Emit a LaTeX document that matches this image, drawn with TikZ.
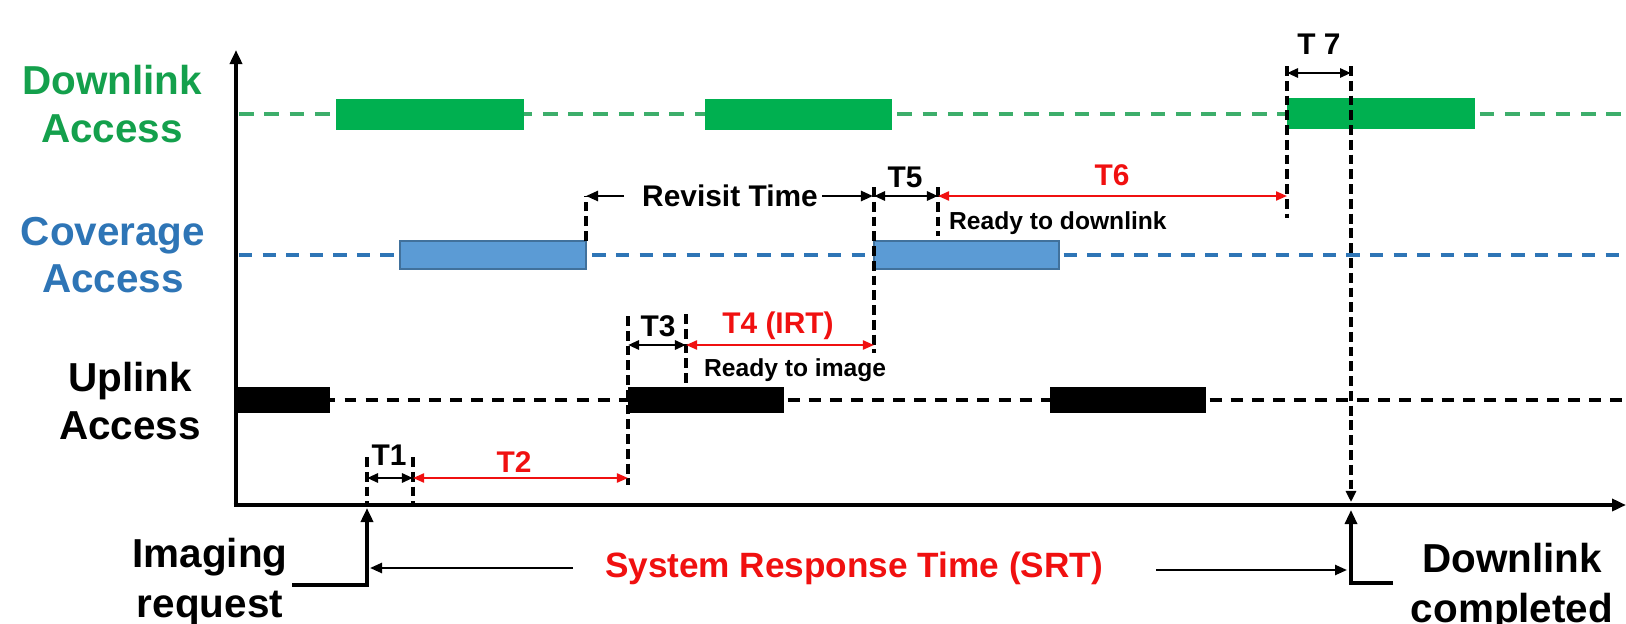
\documentclass[tikz,border=0pt]{standalone}
\usepackage{fontspec}
\setmainfont{Liberation Sans}
\usepackage{tikz}
\usetikzlibrary{positioning, arrows.meta, calc}
\definecolor{dlgreen}{HTML}{00B050}
\definecolor{dltext}{HTML}{14A04C}
\definecolor{dlline}{HTML}{3DAE6B}
\definecolor{cvblue}{HTML}{2E75B6}
\definecolor{cvfill}{HTML}{5B9BD5}
\definecolor{cvedge}{HTML}{41719C}
\definecolor{srtred}{HTML}{F01010}

\begin{document}
\begin{tikzpicture}[
        x=0.01cm, y=-0.01cm,
        lane/.style={font=\fontsize{11.5}{13.5}\selectfont\bfseries, align=center},
        tlabel/.style={font=\fontsize{8.5}{10}\selectfont\bfseries, inner sep=1pt},
        note/.style={font=\fontsize{7}{8}\selectfont\bfseries, inner sep=1pt, anchor=west},
        track/.style={dash pattern=on 4.2pt off 3pt, line width=1.1pt},
        vmark/.style={dash pattern=on 2.8pt off 1.4pt, line width=1.1pt},
        axis/.style={-{Triangle[length=1.4mm, width=1.2mm]}, line width=1.4pt},
        dim/.style={{Triangle[length=1.1mm, width=0.9mm]}-{Triangle[length=1.1mm, width=0.9mm]}, line width=0.8pt},
        reddim/.style={dim, srtred, line width=0.6pt},
        arr/.style={-{Triangle[length=1.2mm, width=1mm]}, line width=0.7pt}
    ]
        \useasboundingbox (0,0) rectangle (1626,624);

        % Axes
        \coordinate (org) at (236,505);
        \coordinate (ytip) at (236,50);
        \coordinate (xtip) at (1626,505);
        \draw[axis] (org) -- (ytip);
        \draw[axis] ($(org)+(-2.5,0)$) -- (xtip);

        % Access tracks
        \draw[track, dlline] (239,114) -- (1626,114);
        \draw[track, cvblue, line width=1.3pt, dash pattern=on 3.8pt off 2.9pt] (239,255) -- (1626,255);
        \draw[track, line width=0.9pt, dash pattern=on 3.4pt off 2.6pt] (239,400) -- (1626,400);

        % Lane labels
        \node[lane, dltext] (dlLabel) at (112,104) {Downlink\\Access};
        \node[lane, cvblue] (cvLabel) at (113,255) {Coverage\\Access};
        \node[lane] (ulLabel) at (130,401) {Uplink\\Access};

        % Downlink windows
        \fill[dlgreen] (336,99) rectangle (524,130);
        \fill[dlgreen] (705,99) rectangle (892,130);
        \fill[dlgreen] (1287,98) rectangle (1475,129);

        % Coverage windows
        \filldraw[fill=cvfill, draw=cvedge, line width=0.8pt] (400,241) rectangle (586,269);
        \filldraw[fill=cvfill, draw=cvedge, line width=0.8pt] (874,241) rectangle (1059,269);

        % Uplink windows
        \fill (236,387) rectangle (330,413);
        \fill (628,387) rectangle (784,413);
        \fill (1050,387) rectangle (1206,413);

        % Event times
        \coordinate (t1a) at (367,478);
        \coordinate (t1b) at (413,478);
        \coordinate (t2b) at (628,478);
        \coordinate (t3a) at (628,345);
        \coordinate (t3b) at (686,345);
        \coordinate (t4b) at (874,345);
        \coordinate (rvA) at (586,196);
        \coordinate (t5a) at (874,196);
        \coordinate (t5b) at (938,196);
        \coordinate (t6b) at (1287,196);
        \coordinate (t7a) at (1287,73);
        \coordinate (t7b) at (1351,73);

        % Dashed markers
        \draw[vmark] (367,457) -- (t1a |- org);
        \draw[vmark] (413,457) -- (t1b |- org);
        \draw[vmark] (628,316) -- (628,485);
        \draw[vmark] (686,314) -- (686,387);
        \draw[vmark] (586,241) -- (rvA);
        \draw[vmark] (874,187) -- (874,353);
        \draw[vmark] (938,187) -- (938,236);
        \draw[vmark] (1287,66) -- (1287,218);
        \draw[vmark, -{Triangle[length=1.1mm, width=1mm]}] (1351,66) -- (1351,502);

        % Intervals
        \draw[dim] (t1a) -- (t1b);
        \draw[reddim] (t1b) -- (t2b);
        \draw[dim] (t3a) -- (t3b);
        \draw[reddim] (t3b) -- (t4b);
        \draw[dim] (t5a) -- (t5b);
        \draw[reddim] (t5b) -- (t6b);
        \draw[dim] (t7a) -- (t7b);

        \node[tlabel] (T1) at (389,455) {T1};
        \node[tlabel, srtred] (T2) at (514,462) {T2};
        \node[tlabel] (T3) at (658,326) {T3};
        \node[tlabel, srtred] (T4) at (778,326) {T4 (IRT)};
        \node[tlabel] (T5) at (905,177) {T5};
        \node[tlabel, srtred] (T6) at (1112,175) {T6};
        \node[tlabel] (T7) at (1319,44) {T 7};

        % Revisit time
        \node[tlabel] (revisit) at (730,196) {Revisit Time};
        \draw[arr] ($(revisit.west)+(-14,0)$) -- (rvA);
        \draw[arr] (revisit.east) -- ($(t5a)+(-1,0)$);

        % Ready notes
        \node[note] (rdyImg) at (700,370) {Ready to image};
        \node[note] (rdyDl) at (945,223) {Ready to downlink};

        % Request and completion
        \node[lane, font=\fontsize{11.5}{14}\selectfont\bfseries] (reqLabel) at (210,582) {Imaging\\request};
        \node[lane, font=\fontsize{11.5}{14}\selectfont\bfseries] (doneLabel) at (1512,587) {Downlink\\completed};
        \coordinate (reqFoot) at (292,585);
        \coordinate (reqTip) at (367,508);
        \coordinate (doneFoot) at (1393,583);
        \coordinate (doneTip) at (1351,510);
        \draw[axis, line width=1.3pt] (reqFoot) -| (reqTip);
        \draw[axis, line width=0.9pt] (doneFoot) -| (doneTip);

        % System response time
        \node[font=\fontsize{10}{12}\selectfont\bfseries, text=srtred] (srt) at (854,568) {System Response Time (SRT)};
        \draw[arr] ($(srt.west)+(-20,0)$) -- ($(reqTip |- srt)+(3,0)$);
        \draw[arr] ($(srt.east)+(41,2)$) -- ($(doneTip |- srt)+(-4,2)$);
    \end{tikzpicture}
\end{document}
